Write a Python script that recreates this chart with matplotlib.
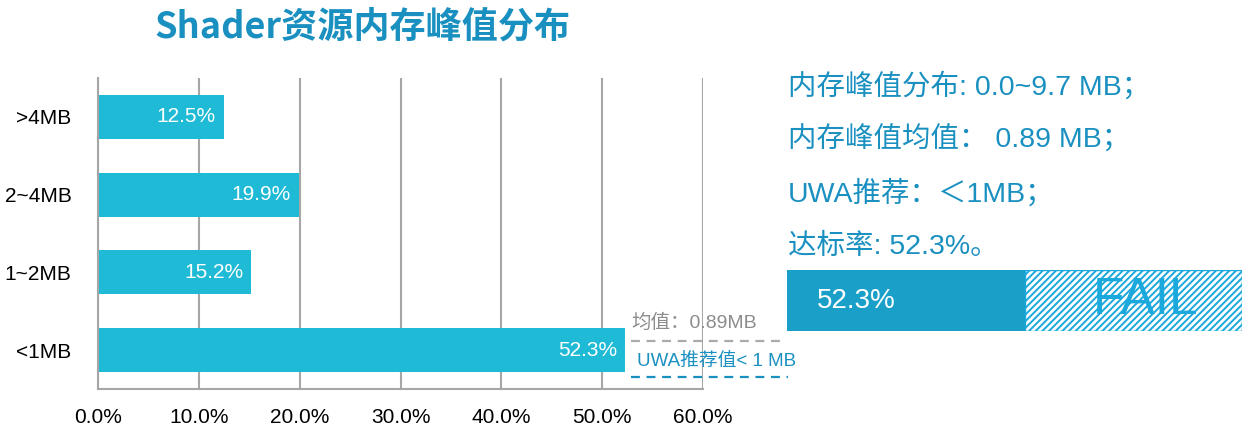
import matplotlib.pyplot as plt
import numpy as np

plt.rcParams['font.family'] = ['Liberation Sans', 'Noto Sans CJK SC', 'DejaVu Sans']
plt.rcParams['hatch.linewidth'] = 1.4

# data
categories = ['>4MB', '2~4MB', '1~2MB', '<1MB']
shares = [12.5, 19.9, 15.2, 52.3]
xticks = [0, 10, 20, 30, 40, 50, 60]
pass_rate = 52.3
mean_mb = 0.89
summary_lines = ['内存峰值分布: 0.0~9.7 MB；',
                 '内存峰值均值： 0.89 MB；',
                 'UWA推荐：＜1MB；',
                 '达标率: 52.3%。']

BAR = '#1fbad6'
TEAL = '#1a90c0'
DARK = '#1aa0c8'
FAILC = '#1ba8dc'
GRID = '#a6a6a6'

fig = plt.figure(figsize=(12.48, 4.38), dpi=100)

# main bar chart
ax = fig.add_axes([98 / 1248, 1 - 389 / 438, 605 / 1248, 311 / 438])
y = np.arange(len(categories))
ax.barh(y, shares, height=0.566, color=BAR, zorder=2)
for yi, v in zip(y, shares):
    ax.text(v - 0.8, yi, f'{v:.1f}%', ha='right', va='center',
            color='white', fontsize=15, zorder=3)

ax.set_xlim(0, 60)
ax.set_ylim(len(categories) - 0.5, -0.5)
ax.set_xticks(xticks)
ax.set_xticklabels([f'{t:.1f}%' for t in xticks], fontsize=15)
ax.set_yticks(y)
ax.set_yticklabels(categories, fontsize=15)
ax.tick_params(length=0, pad=14)
ax.tick_params(axis='y', pad=19)
ax.grid(axis='x', color=GRID, linewidth=1.5, zorder=1)
for s in ['top', 'right']:
    ax.spines[s].set_visible(False)
for s in ['left', 'bottom']:
    ax.spines[s].set_color(GRID)
    ax.spines[s].set_linewidth(1.5)

# mean / recommendation marks next to the <1MB bar
ax.plot([52.9, 68.2], [2.88, 2.88], color='#aaaaaa', lw=1.6,
        dashes=(4, 3), clip_on=False, zorder=3)
ax.text(52.9, 2.65, f'均值：{mean_mb}MB', color='#8c8c8c', fontsize=14,
        va='center', ha='left', clip_on=False)
ax.plot([52.9, 68.4], [3.35, 3.35], color=TEAL, lw=1.6,
        dashes=(4, 3), clip_on=False, zorder=3)
ax.text(53.5, 3.15, 'UWA推荐值< 1 MB', color=TEAL, fontsize=13.5,
        va='center', ha='left', clip_on=False)

fig.text(363 / 1248, 1 - 27 / 438, 'Shader资源内存峰值分布', ha='center',
         va='center', color=TEAL, fontsize=26, fontweight='bold',
         family=['Noto Sans CJK SC', 'DejaVu Sans'])

# right summary
for i, line in enumerate(summary_lines):
    fig.text(788 / 1248, 1 - (86 + 53.5 * i) / 438, line, ha='left',
             va='center', color=TEAL, fontsize=20.5)

# pass-rate bar
bx = fig.add_axes([787 / 1248, 1 - 331 / 438, 455 / 1248, 61 / 438])
bx.barh(0, pass_rate, height=1, color=DARK, left=0)
bx.barh(0, 100 - pass_rate, height=1, left=pass_rate, color='white',
        edgecolor=FAILC, hatch='/////', linewidth=1)
bx.text(6.5, 0, f'{pass_rate}%', color='white', fontsize=20,
        ha='left', va='center')
bx.text(78.8, 0, 'FAIL', color=FAILC, fontsize=37, ha='center', va='center')
bx.set_xlim(0, 100)
bx.set_ylim(-0.5, 0.5)
bx.axis('off')

fig.savefig('out.png', dpi=100)
